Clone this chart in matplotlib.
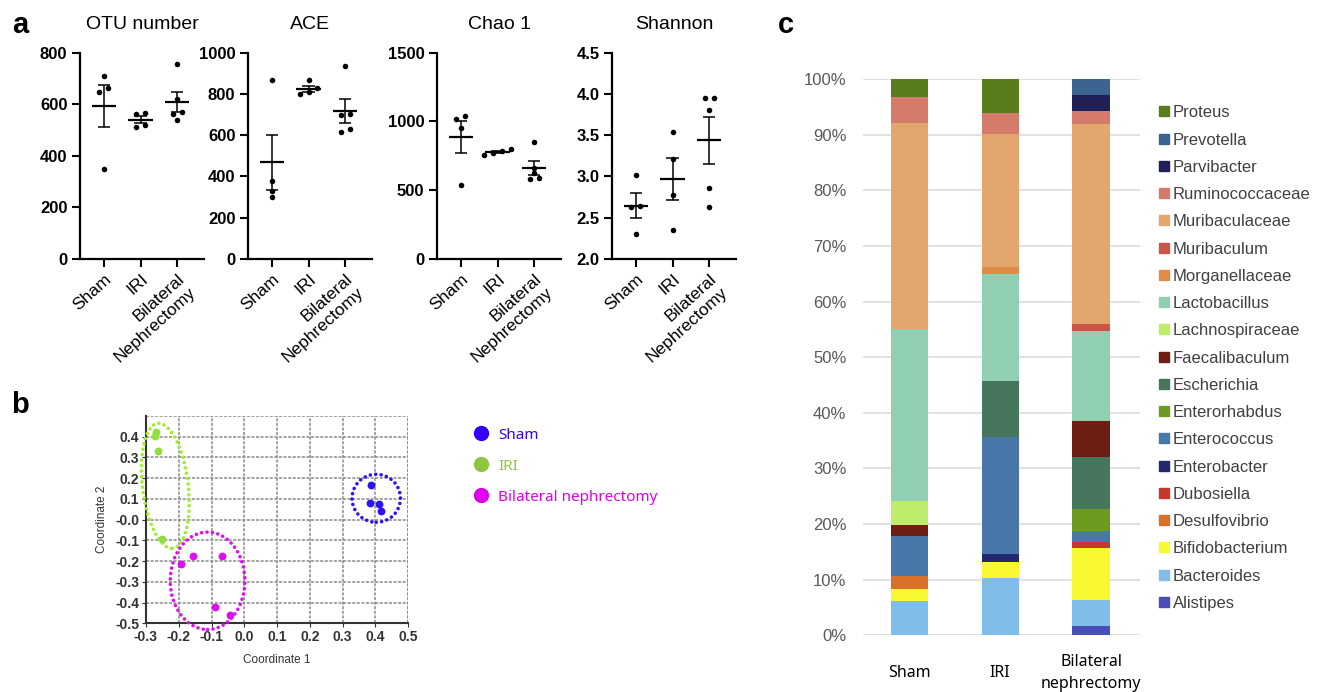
import numpy as np
import matplotlib
matplotlib.use("Agg")
import matplotlib.pyplot as plt
from matplotlib.patches import Ellipse, Patch
from matplotlib.lines import Line2D

plt.rcParams['font.family'] = ['Liberation Sans', 'DejaVu Sans']

W, H = 1325, 692

# ---- panel a: alpha diversity (one list per group) ----
groups_a = ["Sham", "IRI", "Bilateral\nNephrectomy"]
otu = [[708, 665, 649, 349], [568, 562, 519, 512], [758, 620, 571, 563, 540]]
ace = [[869, 376, 330, 300], [866, 828, 808, 800], [937, 703, 696, 628, 617]]
chao1 = [[1040, 1018, 955, 538], [800, 785, 768, 756], [850, 660, 625, 590, 580]]
shannon = [[3.02, 2.64, 2.63, 2.30], [3.535, 3.21, 2.77, 2.355],
           [3.95, 3.95, 3.80, 2.86, 2.63]]

# ---- panel b: PCoA coordinates ----
sham_x = [0.387, 0.385, 0.410, 0.418]
sham_y = [0.167, 0.079, 0.077, 0.043]
iri_x = [-0.268, -0.273, -0.262, -0.252]
iri_y = [0.425, 0.405, 0.330, -0.095]
bn_x = [-0.193, -0.158, -0.069, -0.088, -0.044]
bn_y = [-0.215, -0.174, -0.174, -0.423, -0.460]

# ---- panel c: relative abundance (%), order bottom -> top ----
groups_c = ["Sham", "IRI", "Bilateral\nnephrectomy"]
taxa = ["Alistipes", "Bacteroides", "Bifidobacterium", "Desulfovibrio",
        "Dubosiella", "Enterobacter", "Enterococcus", "Enterorhabdus",
        "Escherichia", "Faecalibaculum", "Lachnospiraceae", "Lactobacillus",
        "Morganellaceae", "Muribaculum", "Muribaculaceae", "Ruminococcaceae",
        "Parvibacter", "Prevotella", "Proteus"]
abundance = [
    [0, 0, 1.6],
    [6.1, 10.3, 4.8],
    [2.3, 2.9, 9.3],
    [2.3, 0, 0],
    [0, 0, 1.1],
    [0, 1.5, 0],
    [7.1, 21.0, 2.0],
    [0, 0, 4.0],
    [0, 10.1, 9.3],
    [2.1, 0, 6.5],
    [4.2, 0, 0],
    [30.9, 19.1, 16.1],
    [0, 1.3, 0],
    [0, 0, 1.2],
    [37.2, 23.9, 36.1],
    [4.55, 3.8, 2.3],
    [0, 0, 2.9],
    [0, 0, 2.8],
    [3.25, 6.1, 0],
]
taxa_colors = ["#4a4cb8", "#80bde9", "#f9f932", "#da712b", "#c33a2c",
               "#24286e", "#4878a9", "#6c9b20", "#46775c", "#6e1d13",
               "#c0ec6b", "#90cfb1", "#e08c49", "#c95646", "#e3a76e",
               "#d57b6b", "#1f2056", "#3c6490", "#5a7d1b"]


def px_axes(fig, left, top, right, bottom):
    return fig.add_axes([left / W, (H - bottom) / H, (right - left) / W,
                         (bottom - top) / H])


def spread(vals, tol):
    # side-by-side offsets for points that would overlap
    vals = np.asarray(vals)
    order = np.argsort(vals)
    offs = np.zeros(len(vals))
    clusters = [[order[0]]]
    for k in order[1:]:
        if vals[k] - vals[clusters[-1][-1]] < tol:
            clusters[-1].append(k)
        else:
            clusters.append([k])
    for c in clusters:
        n = len(c)
        for j, k in enumerate(c):
            offs[k] = (j - (n - 1) / 2) * 0.24
    return offs


def dot_plot(ax, data, title, ylo, yhi, step, fmt):
    tol = 0.021 * (yhi - ylo)
    for i, vals in enumerate(data):
        vals = np.array(vals, dtype=float)
        m = vals.mean()
        sem = vals.std(ddof=1) / np.sqrt(len(vals))
        ax.scatter(i + spread(vals, tol), vals, s=16,
                   c='k', zorder=3, linewidths=0)
        ax.hlines(m, i - 0.33, i + 0.33, color='k', lw=1.6)
        ax.vlines(i, m - sem, m + sem, color='k', lw=1.1)
        ax.hlines([m - sem, m + sem], i - 0.17, i + 0.17, color='k', lw=1.1)
    ax.set_xlim(-0.65, 2.73)
    ax.set_ylim(ylo, yhi)
    ticks = np.arange(ylo, yhi + step / 2, step)
    ax.set_yticks(ticks)
    ax.set_yticklabels([fmt.format(t) for t in ticks], fontsize=12,
                       fontweight='bold')
    ax.set_xticks(range(3))
    ax.set_xticklabels(groups_a, rotation=42, ha='right',
                       rotation_mode='anchor', fontsize=12.5)
    ax.tick_params(length=6, width=1.5, pad=3)
    for s in ['top', 'right']:
        ax.spines[s].set_visible(False)
    for s in ['left', 'bottom']:
        ax.spines[s].set_linewidth(1.6)
    ax.set_title(title, fontsize=14, pad=17)


def main():
    fig = plt.figure(figsize=(W / 100, H / 100), dpi=100)

    # panel a
    lefts = [80, 248, 437, 612]
    specs = [(otu, "OTU number", 0, 800, 200, "{:.0f}"),
             (ace, "ACE", 0, 1000, 200, "{:.0f}"),
             (chao1, "Chao 1", 0, 1500, 500, "{:.0f}"),
             (shannon, "Shannon", 2.0, 4.5, 0.5, "{:.1f}")]
    for left, (data, title, lo, hi, st, fmt) in zip(lefts, specs):
        ax = px_axes(fig, left, 52.7, left + 124, 259)
        dot_plot(ax, data, title, lo, hi, st, fmt)

    # panel b
    axb = px_axes(fig, 146, 416, 408, 623.3)
    axb.set_xlim(-0.3, 0.5)
    axb.set_ylim(-0.5, 0.5)
    axb.set_xticks(np.arange(-0.3, 0.51, 0.1))
    axb.set_yticks(np.arange(-0.5, 0.41, 0.1))
    axb.set_xticklabels(["%.1f" % v for v in np.arange(-0.3, 0.51, 0.1)])
    axb.set_yticklabels(["%.1f" % v for v in np.arange(-0.5, 0.41, 0.1)])
    axb.tick_params(labelsize=10, colors='#333333', length=3, pad=2)
    for t in axb.get_xticklabels() + axb.get_yticklabels():
        t.set_fontweight('bold')
    axb.grid(True, color='#8a8a8a', linestyle=(0, (2, 1)), lw=1.1)
    axb.axhline(0.5, color='#8a8a8a', linestyle=(0, (2, 1)), lw=1.1)
    axb.axvline(0.5, color='#8a8a8a', linestyle=(0, (2, 1)), lw=1.1)
    axb.set_axisbelow(True)
    for s in ['top', 'right']:
        axb.spines[s].set_visible(False)
    for s in ['left', 'bottom']:
        axb.spines[s].set_linewidth(1.5)
        axb.spines[s].set_color('#333333')
    axb.set_xlabel("Coordinate 1", fontsize=8.5, labelpad=7, color='#333333')
    axb.set_ylabel("Coordinate 2", fontsize=8.5, labelpad=5, color='#333333')
    c_sham, c_iri, c_bn = "#2a14f5", "#93dd3c", "#dd10ee"
    axb.scatter(sham_x, sham_y, s=32, c=c_sham, zorder=4, linewidths=0)
    axb.scatter(iri_x, iri_y, s=32, c=c_iri, zorder=4, linewidths=0)
    axb.scatter(bn_x, bn_y, s=32, c=c_bn, zorder=4, linewidths=0)
    dots = (0, (0.01, 1.5))
    rings = [((0.403, 0.103), 0.148, 0.232, 0, "#2a14f5"),
             ((-0.241, 0.163), 0.14, 0.605, 4, "#a3ec34"),
             ((-0.112, -0.295), 0.228, 0.47, 0, "#dd10ee")]
    for xy, w, h, ang, col in rings:
        e = Ellipse(xy, w, h, angle=ang, fill=False, ec=col, lw=2.6,
                    ls=dots, zorder=3, clip_on=False)
        e.set_capstyle('round')
        axb.add_patch(e)
    handles = [Line2D([], [], ls='', marker='o', ms=10, mfc=c, mec=c)
               for c in ["#3300ff", "#8dc63f", "#dd00ee"]]
    fig.legend(handles, ["Sham", "IRI", "Bilateral nephrectomy"],
               loc='upper left', bbox_to_anchor=(458 / W, 1 - 420 / H),
               frameon=False, labelcolor='markerfacecolor',
               handletextpad=0.15, labelspacing=1.05, borderpad=0,
               prop={'family': 'Noto Sans', 'size': 11})

    # panel c
    axc = px_axes(fig, 863, 79.3, 1140, 635.3)
    x = np.arange(len(groups_c))
    bottom = np.zeros(len(groups_c))
    for name, vals, col in zip(taxa, abundance, taxa_colors):
        axc.bar(x, vals, 0.41, bottom=bottom, color=col, label=name,
                zorder=3)
        bottom += np.array(vals)
    axc.set_xlim(-0.51, 2.54)
    axc.set_ylim(0, 100)
    axc.set_yticks(range(0, 101, 10))
    axc.set_yticklabels(["%d%%" % v for v in range(0, 101, 10)])
    axc.yaxis.grid(True, color='#d9d9d9', lw=1.1)
    axc.set_axisbelow(True)
    for s in axc.spines.values():
        s.set_visible(False)
    axc.tick_params(axis='y', length=0, pad=12, labelsize=12,
                    labelcolor='#595959')
    axc.set_xticks(x)
    axc.set_xticklabels(groups_c, fontsize=11.5, family='Noto Sans',
                        linespacing=1.5)
    axc.tick_params(axis='x', length=0, pad=27)
    for t in axc.get_xticklabels():
        t.set_va('center')
    patches = [Patch(color=c) for c in taxa_colors[::-1]]
    fig.legend(patches, taxa[::-1], loc='upper left',
               bbox_to_anchor=(1151 / W, 1 - 97 / H), frameon=False,
               fontsize=12, handlelength=0.55, handleheight=0.55,
               handletextpad=0.25, labelspacing=0.735, borderpad=0,
               labelcolor='#404040')

    fig.text(20 / W, 1 - 25 / H, "a", fontsize=21, fontweight='bold',
             ha='center', va='center')
    fig.text(20 / W, 1 - 405 / H, "b", fontsize=21, fontweight='bold',
             ha='center', va='center')
    fig.text(786 / W, 1 - 25 / H, "c", fontsize=21, fontweight='bold',
             ha='center', va='center')

    fig.savefig("out.png", dpi=100)


if __name__ == "__main__":
    main()
